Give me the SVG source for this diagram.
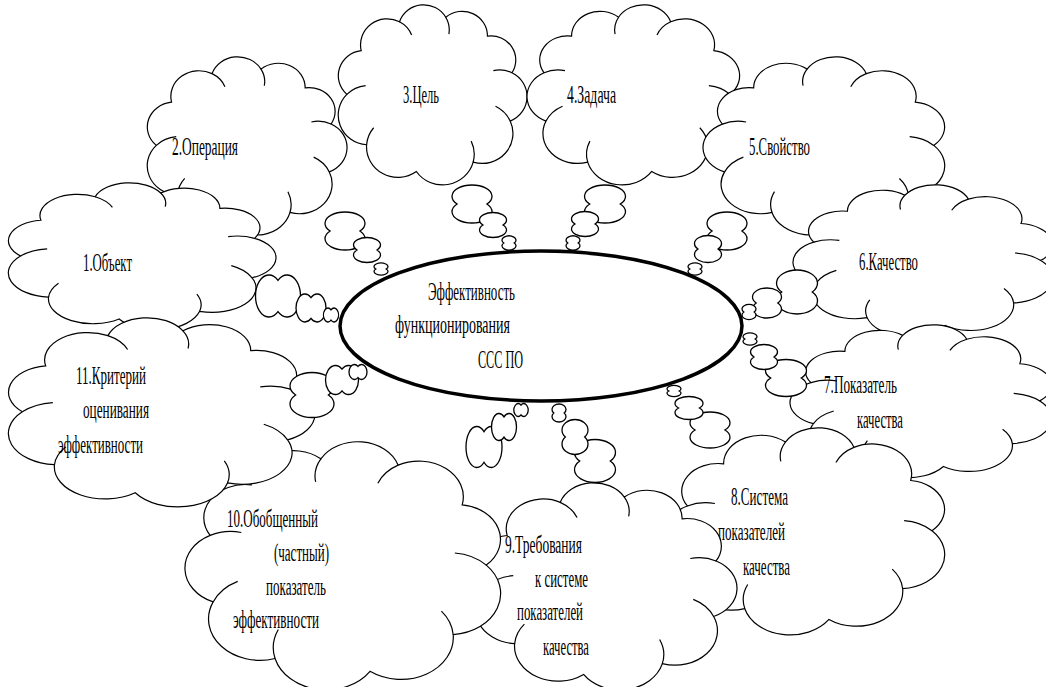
<svg xmlns="http://www.w3.org/2000/svg" xmlns:xlink="http://www.w3.org/1999/xlink" width="1046" height="687" viewBox="0 0 1046 687">
<style>
text{font-family:"Liberation Serif","Times New Roman",serif;font-size:26px;fill:#000}
</style>
<defs>
<g id="cloud">
<path fill="#fff" stroke="#000" stroke-width="1.2" vector-effect="non-scaling-stroke" d="M7 50A13.2 13.2 0 0 1 14.35 27.1A13.6 13.6 0 0 1 33.9 12A13 13 0 0 1 57.5 9.6A12.9 12.9 0 0 1 78.8 19.5A12.6 12.6 0 0 1 91.3 38.7A13.9 13.9 0 0 1 90.4 64A15.7 15.7 0 0 1 71.5 85.5A16.2 16.2 0 0 1 42.5 90.4A16 16 0 0 1 17.1 76.4A15.6 15.6 0 0 1 7 50Z"/>
<path fill="none" stroke="#000" stroke-width="1.2" vector-effect="non-scaling-stroke" d="M7 50A15.6 15.6 0 0 1 16.6 45.4M57.5 9.6A13 13 0 0 1 59.1 18.4M81.8 37.6A13.9 13.9 0 0 1 91.3 38.7M70.5 74.5A16.2 16.2 0 0 1 71.5 85.5M33.9 12A13.6 13.6 0 0 1 40.1 18.9M17.1 76.4A16 16 0 0 1 20.7 67.5M82.9 56.2A15.7 15.7 0 0 1 90.4 64"/>
</g>
<path id="pv" fill="#fff" stroke="#000" stroke-width="1.3" vector-effect="non-scaling-stroke" d="M-0.745 0A1 0.6 0 1 1 0.745 0A1 0.6 0 1 1 -0.745 0Z"/>
<path id="ph" fill="#fff" stroke="#000" stroke-width="1.3" vector-effect="non-scaling-stroke" d="M0 -0.745A0.6 1 0 1 1 0 0.745A0.6 1 0 1 1 0 -0.745Z"/>
</defs>

<g id="n2"><use xlink:href="#cloud" transform="translate(141.8,51) scale(2.073,1.888)"/><text x="172" y="155" textLength="66" lengthAdjust="spacingAndGlyphs">2.Операция</text></g>
<g id="n3"><use xlink:href="#cloud" transform="translate(333.1,-1.1) scale(1.959,1.909)"/><text x="403" y="103" textLength="36" lengthAdjust="spacingAndGlyphs">3.Цель</text></g>
<g id="n4"><use xlink:href="#cloud" transform="translate(745.5,-1.1) scale(-2.207,1.909)"/><text x="567" y="103" textLength="49" lengthAdjust="spacingAndGlyphs">4.Задача</text></g>
<g id="n5"><use xlink:href="#cloud" transform="translate(951.3,51) scale(-2.508,1.888)"/><text x="749" y="155" textLength="61" lengthAdjust="spacingAndGlyphs">5.Свойство</text></g>
<g id="n6"><use xlink:href="#cloud" transform="translate(1059.7,179.8) scale(-2.694,1.612)"/><text x="859" y="270" textLength="59" lengthAdjust="spacingAndGlyphs">6.Качество</text></g>
<g id="n7"><use xlink:href="#cloud" transform="translate(1058.8,319.8) scale(-2.715,1.622)"/><text x="824" y="393" textLength="73" lengthAdjust="spacingAndGlyphs">7.Показатель</text><text x="857" y="428" textLength="46" lengthAdjust="spacingAndGlyphs">качества</text></g>
<g id="n8"><use xlink:href="#cloud" transform="translate(952.3,421) scale(-2.902,2.195)"/><text x="731" y="505" textLength="57" lengthAdjust="spacingAndGlyphs">8.Система</text><text x="718" y="540" textLength="67" lengthAdjust="spacingAndGlyphs">показателей</text><text x="743" y="575" textLength="47" lengthAdjust="spacingAndGlyphs">качества</text></g>
<g id="n9"><use xlink:href="#cloud" transform="translate(468.2,476) scale(2.715,2.195)"/><text x="505" y="553" textLength="77" lengthAdjust="spacingAndGlyphs">9.Требования</text><text x="535" y="587" textLength="53" lengthAdjust="spacingAndGlyphs">к системе</text><text x="517" y="620" textLength="66" lengthAdjust="spacingAndGlyphs">показателей</text><text x="543" y="655" textLength="46" lengthAdjust="spacingAndGlyphs">качества</text></g>
<g id="n10"><use xlink:href="#cloud" transform="translate(509.2,433.6) scale(-3.275,2.63)"/><text x="227" y="527" textLength="91" lengthAdjust="spacingAndGlyphs">10.Обобщенный</text><text x="274" y="561" textLength="55" lengthAdjust="spacingAndGlyphs">(частный)</text><text x="266" y="595" textLength="60" lengthAdjust="spacingAndGlyphs">показатель</text><text x="233" y="628" textLength="86" lengthAdjust="spacingAndGlyphs">эффективности</text></g>
<g id="n1"><use xlink:href="#cloud" transform="translate(1.06,178) scale(2.777,1.559)"/><text x="83" y="271" textLength="49" lengthAdjust="spacingAndGlyphs">1.Объект</text></g>
<g id="n11"><use xlink:href="#cloud" transform="translate(0.05,311.6) scale(3.181,2.004)"/><text x="76" y="384" textLength="70" lengthAdjust="spacingAndGlyphs">11.Критерий</text><text x="83" y="418" textLength="66" lengthAdjust="spacingAndGlyphs">оценивания</text><text x="58" y="453" textLength="85" lengthAdjust="spacingAndGlyphs">эффективности</text></g>

<g id="connectors">
<use xlink:href="#ph" transform="translate(278,296) scale(22.5,21)"/>
<use xlink:href="#ph" transform="translate(311,308) scale(15,14)"/>
<use xlink:href="#ph" transform="translate(331,315) scale(7.5,7)"/>
<use xlink:href="#pv" transform="translate(345,231) scale(20,19)"/>
<use xlink:href="#pv" transform="translate(367,250) scale(13.5,12.5)"/>
<use xlink:href="#pv" transform="translate(381,269) scale(7,6)"/>
<use xlink:href="#pv" transform="translate(472,204) scale(20,19)"/>
<use xlink:href="#pv" transform="translate(493,225) scale(13.5,12.5)"/>
<use xlink:href="#pv" transform="translate(509,243) scale(7,7)"/>
<use xlink:href="#pv" transform="translate(605,204) scale(20.5,19)"/>
<use xlink:href="#pv" transform="translate(585,224) scale(13.5,12.5)"/>
<use xlink:href="#pv" transform="translate(573,243) scale(7,7)"/>
<use xlink:href="#pv" transform="translate(727,231) scale(20,19)"/>
<use xlink:href="#pv" transform="translate(708,249) scale(13.5,13.5)"/>
<use xlink:href="#pv" transform="translate(695,269) scale(7,6)"/>
<use xlink:href="#pv" transform="translate(797,292) scale(20.5,22)"/>
<use xlink:href="#pv" transform="translate(767,303) scale(14.5,15)"/>
<use xlink:href="#pv" transform="translate(749,312) scale(7,7.5)"/>
<use xlink:href="#pv" transform="translate(786,378) scale(20.5,18.5)"/>
<use xlink:href="#pv" transform="translate(764,357) scale(13.5,12.5)"/>
<use xlink:href="#pv" transform="translate(750,339) scale(7,6)"/>
<use xlink:href="#pv" transform="translate(710,430) scale(20,18)"/>
<use xlink:href="#pv" transform="translate(689,408) scale(14,11.5)"/>
<use xlink:href="#pv" transform="translate(674,391) scale(7,5.5)"/>
<use xlink:href="#pv" transform="translate(595,461) scale(20.5,21.5)"/>
<use xlink:href="#pv" transform="translate(575,437) scale(13,17.5)"/>
<use xlink:href="#pv" transform="translate(559,413) scale(7,9)"/>
<use xlink:href="#ph" transform="translate(484,447) scale(18,20.5)"/>
<use xlink:href="#ph" transform="translate(504,427) scale(12.5,13.5)"/>
<use xlink:href="#ph" transform="translate(521,410) scale(7,6.5)"/>
<use xlink:href="#pv" transform="translate(312,395) scale(22,22.5)"/>
<use xlink:href="#ph" transform="translate(342,380) scale(16.5,14.5)"/>
<use xlink:href="#ph" transform="translate(358,372) scale(9,7.5)"/>
</g>

<g id="center">
<ellipse cx="541" cy="326" rx="201" ry="75" fill="#fff" stroke="#000" stroke-width="3.5"/>
<text x="428" y="300" textLength="87" lengthAdjust="spacingAndGlyphs">Эффективность</text>
<text x="395" y="333" textLength="115" lengthAdjust="spacingAndGlyphs">функционирования</text>
<text x="478" y="368" textLength="45" lengthAdjust="spacingAndGlyphs">ССС ПО</text>
</g>
</svg>
